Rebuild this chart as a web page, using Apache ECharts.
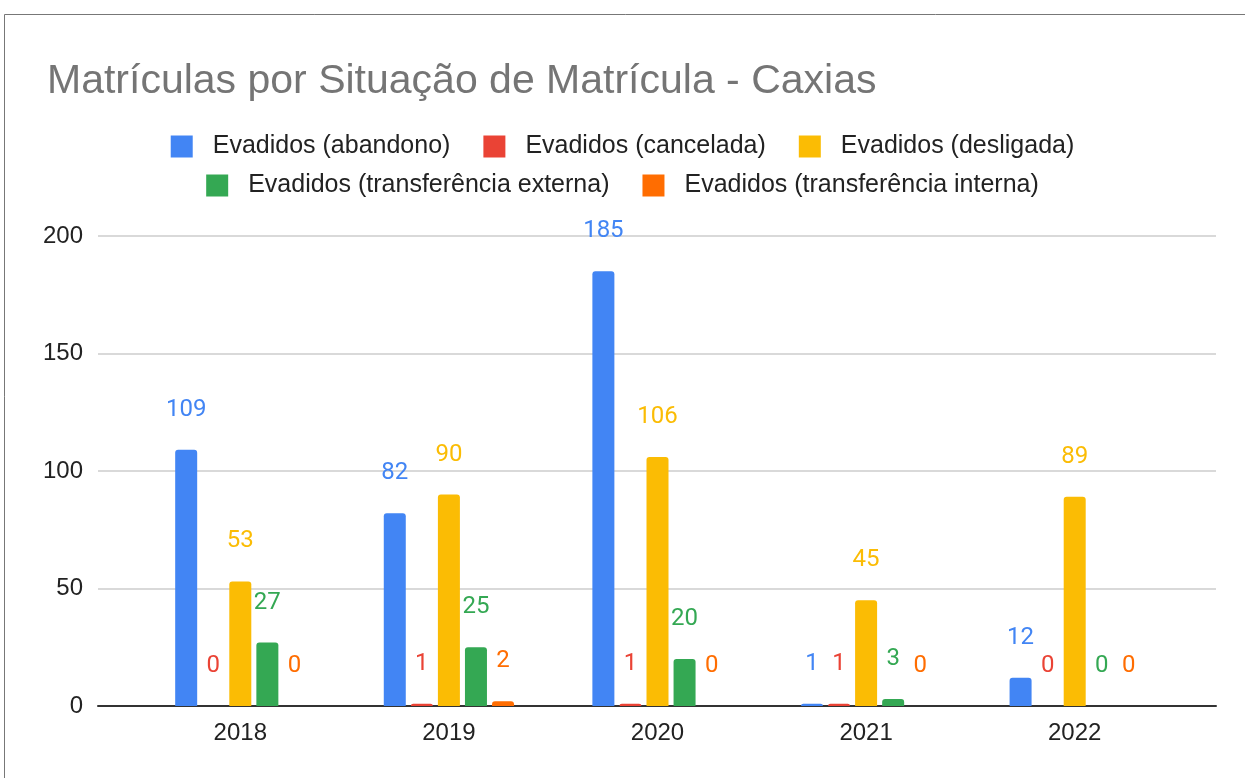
<!DOCTYPE html>
<html>
<head>
<meta charset="utf-8">
<script src="https://cdn.jsdelivr.net/npm/echarts@6/dist/echarts.min.js"></script>
<style>
  html, body { margin: 0; padding: 0; background: #fff; }
  #chart { width: 1245px; height: 778px; }
</style>
</head>
<body>
<div id="chart"></div>
<script>
// dados
const categories = ['2018', '2019', '2020', '2021', '2022'];
const abandono = [109, 82, 185, 1, 12];
const cancelada = [0, 1, 1, 1, 0];
const desligada = [53, 90, 106, 45, 89];
const transfExterna = [27, 25, 20, 3, 0];
const transfInterna = [0, 2, 0, 0, 0];
const yTicks = [0, 50, 100, 150, 200];

const names = [
  'Evadidos (abandono)',
  'Evadidos (cancelada)',
  'Evadidos (desligada)',
  'Evadidos (transferência externa)',
  'Evadidos (transferência interna)'
];
const colors = ['#4285F4', '#EA4335', '#FBBC04', '#34A853', '#FF6D01'];
const values = [abandono, cancelada, desligada, transfExterna, transfInterna];

const chart = echarts.init(document.getElementById('chart'));
const font = '"Liberation Sans", Arial, sans-serif';
const labelFont = 'Roboto, "Noto Sans", sans-serif';

const legendBase = {
  left: 'center',
  icon: 'rect',
  itemWidth: 22,
  itemHeight: 22,
  itemGap: 33,
  itemStyle: { borderRadius: 2 },
  textStyle: { fontFamily: font, fontSize: 25, color: '#222', padding: [0, 0, 0, 15] }
};

const option = {
  animation: false,
  color: colors,
  title: {
    text: 'Matrículas por Situação de Matrícula - Caxias',
    left: 42,
    top: 56,
    textStyle: { fontFamily: font, fontSize: 41, fontWeight: 'normal', color: '#757575' }
  },
  legend: [
    Object.assign({}, legendBase, { top: 129, data: names.slice(0, 3) }),
    Object.assign({}, legendBase, { top: 168, data: names.slice(3) })
  ],
  graphic: [{
    type: 'rect',
    shape: { x: 4.5, y: 14.5, width: 1300, height: 800 },
    style: { fill: 'none', stroke: '#777', lineWidth: 1 },
    silent: true
  }],
  grid: [
    { left: 136, right: 66, top: 236, bottom: 72 },
    { left: 98, right: 29, top: 236, bottom: 72 }
  ],
  xAxis: [
    {
      type: 'category', gridIndex: 0, data: categories,
      axisLine: { show: false }, axisTick: { show: false },
      axisLabel: { fontFamily: font, fontSize: 24, color: '#222', margin: 15 }
    },
    {
      type: 'category', gridIndex: 1, data: [''],
      axisLine: { show: true, lineStyle: { color: '#333', width: 2 } },
      axisTick: { show: false }, axisLabel: { show: false }
    }
  ],
  yAxis: [
    { type: 'value', gridIndex: 0, min: 0, max: 200, interval: 50, show: false, splitLine: { show: false } },
    {
      type: 'value', gridIndex: 1, min: yTicks[0], max: yTicks[yTicks.length - 1], interval: 50,
      axisLine: { show: false }, axisTick: { show: false },
      axisLabel: { fontFamily: font, fontSize: 24, color: '#222', margin: 15 },
      splitLine: { lineStyle: { color: '#ccc', width: 1.5 } }
    }
  ],
  series: names.map((n, i) => ({
    name: n,
    type: 'bar',
    xAxisIndex: 0,
    yAxisIndex: 0,
    data: values[i],
    barWidth: 22,
    barGap: '23%',
    itemStyle: { color: colors[i], borderRadius: [3, 3, 0, 0] },
    label: {
      show: true,
      position: 'top',
      distance: 28,
      fontFamily: labelFont,
      fontSize: 24,
      color: colors[i]
    },
    z: 3
  }))
};

chart.setOption(option);
</script>
</body>
</html>
